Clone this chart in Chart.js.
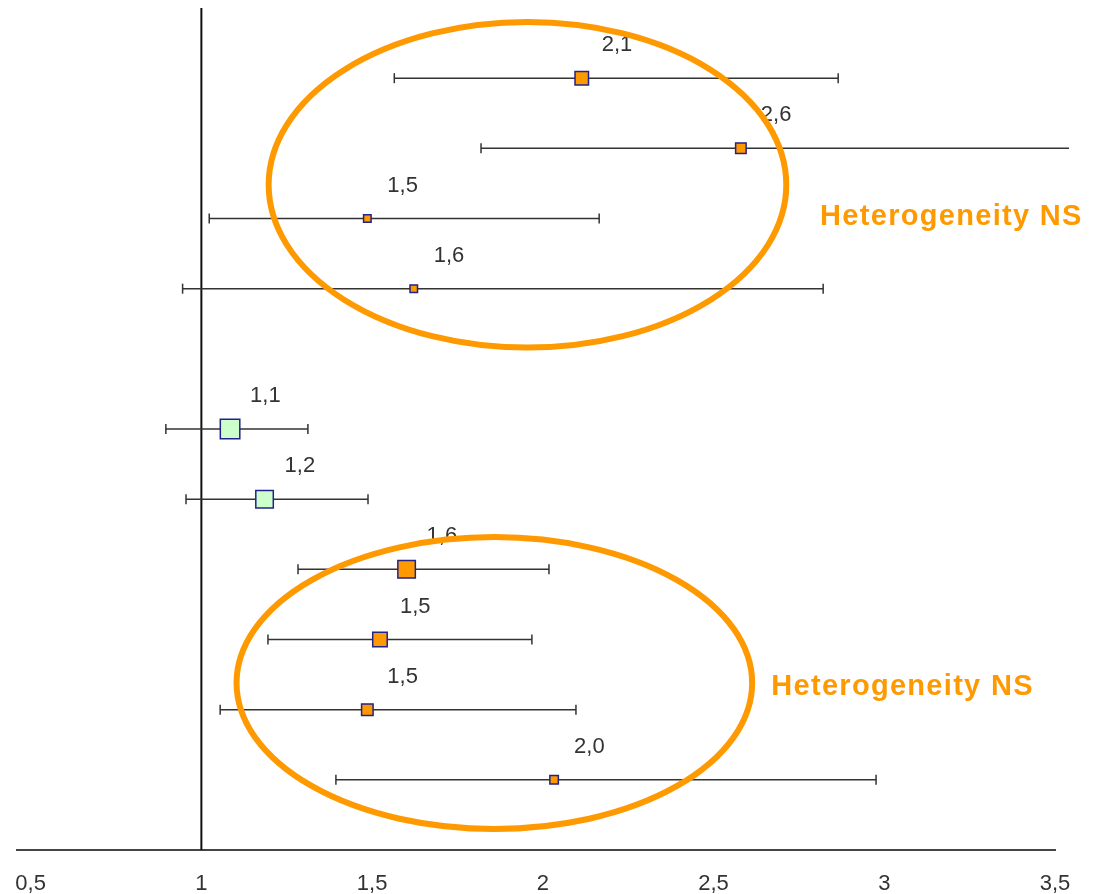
<!DOCTYPE html>
<html>
<head>
<meta charset="utf-8">
<script src="https://cdn.jsdelivr.net/npm/chart.js@4/dist/chart.umd.min.js"></script>
<style>
    html, body { margin: 0; padding: 0; background: #ffffff; }
    #contenedor { width: 1093px; height: 894px; }
</style>
</head>
<body>
<div id="contenedor"><canvas id="graficoForest"></canvas></div>
<script>
// filas del forest plot (de arriba hacia abajo, la fila 5 queda vacia)
const filas = [1, 2, 3, 4, 6, 7, 8, 9, 10, 11];
const estimacion = [2.114, 2.58, 1.486, 1.622, 1.084, 1.185, 1.601, 1.523, 1.486, 2.033];
const limiteInferior = [1.565, 1.819, 1.023, 0.945, 0.896, 0.955, 1.283, 1.195, 1.055, 1.394];
const limiteSuperior = [2.865, 3.6, 2.165, 2.821, 1.312, 1.488, 2.018, 1.968, 2.097, 2.976];
const ticksX = [0.5, 1, 1.5, 2, 2.5, 3, 3.5];

// estilos de las cajas (tamaño = peso del estudio)
const ladoCaja = [15, 12, 9, 9, 21, 19, 19, 16, 13, 10];
const colorCaja = ["#ff9900", "#ff9900", "#ff9900", "#ff9900", "#ccffcc", "#ccffcc", "#ff9900", "#ff9900", "#ff9900", "#ff9900"];

// elipses de heterogeneidad (en unidades de los ejes)
const elipseCentroX = [1.955, 1.858];
const elipseCentroY = [2.52, 9.62];
const elipseRadioX = [0.758, 0.755];
const elipseRadioY = [2.32, 2.08];
const textoElipse = ["Heterogeneity NS", "Heterogeneity NS"];
const textoX = [2.812, 2.669];
const textoY = [2.98, 9.68];

function formatoComa(v) {
    return String(v).replace(".", ",");
}

const pluginEtiquetas = {
    id: "etiquetasYElipses",
    afterDatasetsDraw(chart) {
        const ctx = chart.ctx;
        const escX = chart.scales.x;
        const escY = chart.scales.y;

        ctx.save();
        ctx.fillStyle = "#333333";
        ctx.font = "22px 'Liberation Sans', Arial, sans-serif";
        ctx.textAlign = "left";
        ctx.textBaseline = "middle";
        filas.forEach((fila, i) => {
            const px = escX.getPixelForValue(estimacion[i]);
            const py = escY.getPixelForValue(fila);
            ctx.fillText(formatoComa(estimacion[i].toFixed(1)), px + 20, py - 33);
        });

        ctx.strokeStyle = "#ff9900";
        ctx.lineWidth = 6;
        elipseCentroX.forEach((cx, i) => {
            const x0 = escX.getPixelForValue(cx);
            const y0 = escY.getPixelForValue(elipseCentroY[i]);
            const rx = escX.getPixelForValue(cx + elipseRadioX[i]) - x0;
            const ry = escY.getPixelForValue(elipseCentroY[i] + elipseRadioY[i]) - y0;
            ctx.beginPath();
            ctx.ellipse(x0, y0, Math.abs(rx), Math.abs(ry), 0, 0, 2 * Math.PI);
            ctx.stroke();
        });

        ctx.fillStyle = "#ff9900";
        ctx.font = "bold 29px 'Liberation Sans', Arial, sans-serif";
        ctx.letterSpacing = "1.3px";
        textoElipse.forEach((t, i) => {
            ctx.fillText(t, escX.getPixelForValue(textoX[i]), escY.getPixelForValue(textoY[i]));
        });
        ctx.restore();
    }
};

// un dataset por intervalo de confianza
const datasetsIntervalos = filas.map((fila, i) => ({
    label: "IC " + fila,
    type: "line",
    data: [{ x: limiteInferior[i], y: fila }, { x: limiteSuperior[i], y: fila }],
    borderColor: "#333333",
    borderWidth: 1.5,
    pointStyle: "line",
    pointRotation: 90,
    pointRadius: 5,
    pointBorderColor: "#333333",
    pointBorderWidth: 1.5,
    fill: false,
    clip: { left: 0, top: 0, right: 14, bottom: 0 }
}));

const ctxForest = document.getElementById("graficoForest").getContext("2d");

new Chart(ctxForest, {
    type: "scatter",
    data: {
        datasets: [
            {
                label: "Estimacion",
                data: filas.map((fila, i) => ({ x: estimacion[i], y: fila })),
                pointStyle: "rect",
                pointRadius: ladoCaja.map(l => (l - 1.5) / Math.SQRT2),
                pointBackgroundColor: colorCaja,
                pointBorderColor: "#22228b",
                pointBorderWidth: 1.5,
                showLine: false
            },
            ...datasetsIntervalos,
            {
                label: "Referencia",
                type: "line",
                data: [{ x: 1, y: 0 }, { x: 1, y: 12 }],
                borderColor: "#111111",
                borderWidth: 2,
                pointRadius: 0,
                fill: false
            }
        ]
    },
    options: {
        responsive: true,
        maintainAspectRatio: false,
        animation: false,
        layout: { autoPadding: false, padding: { left: 17, right: 38, top: 8, bottom: 0 } },
        plugins: {
            legend: { display: false },
            tooltip: { enabled: false }
        },
        scales: {
            x: {
                type: "linear",
                min: 0.46,
                max: 3.5,
                afterBuildTicks: escala => {
                    escala.ticks = ticksX.map(v => ({ value: v }));
                },
                afterFit: escala => {
                    escala.height = 44;
                    escala.paddingLeft = 0;
                    escala.paddingRight = 0;
                },
                grid: { display: false, drawTicks: false },
                border: { display: true, color: "#444444", width: 2 },
                ticks: {
                    padding: 21,
                    color: "#333333",
                    font: { family: "'Liberation Sans', Arial, sans-serif", size: 22 },
                    callback: v => formatoComa(v)
                }
            },
            y: {
                type: "linear",
                min: 0,
                max: 12,
                reverse: true,
                display: false
            }
        }
    },
    plugins: [pluginEtiquetas]
});
</script>
</body>
</html>
